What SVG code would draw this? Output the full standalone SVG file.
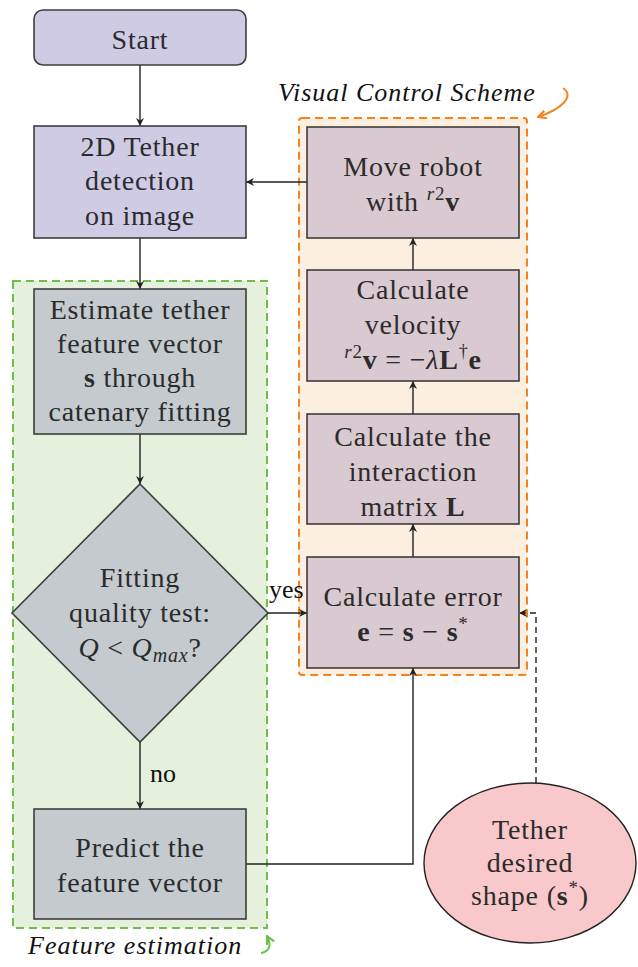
<svg xmlns="http://www.w3.org/2000/svg" width="638" height="967" viewBox="0 0 638 967" font-family="Liberation Serif, Times New Roman, serif">
<defs>
<style>
text{font-family:"Liberation Serif","Times New Roman",Tinos,serif}
.t{font-size:28px;fill:#2b2b2b;text-anchor:middle;letter-spacing:0.8px}
.lbl{font-size:26px;fill:#111}
.cap{font-size:26px;font-style:italic;fill:#111;letter-spacing:1px}
.b{font-weight:bold}
.i{font-style:italic}
.box{stroke:#3d3d3d;stroke-width:1.6}
.lav{fill:#cfcbe4}
.gray{fill:#c4cacd}
.mauve{fill:#d9c9d0}
.edge{fill:none;stroke:#222;stroke-width:1.4}
</style>
<marker id="ah" viewBox="0 0 10 10" refX="10" refY="5" markerWidth="8" markerHeight="8" markerUnits="userSpaceOnUse" orient="auto">
<path d="M0,0 L10,5 L0,10 L3,5 Z" fill="#222"/>
</marker>
<marker id="ahO" viewBox="0 0 10 10" refX="9" refY="5" markerWidth="10" markerHeight="10" markerUnits="userSpaceOnUse" orient="auto">
<path d="M1,1 L9,5 L1,9" fill="none" stroke="#f5821f" stroke-width="2"/>
</marker>
<marker id="ahG" viewBox="0 0 10 10" refX="9" refY="5" markerWidth="10" markerHeight="10" markerUnits="userSpaceOnUse" orient="auto">
<path d="M1,1 L9,5 L1,9" fill="none" stroke="#6cbf4a" stroke-width="2"/>
</marker>
</defs>

<g id="feature-estimation-group">
<rect x="13" y="281" width="254" height="647" fill="#e5f1dc" stroke="#6cbf4a" stroke-width="2" stroke-dasharray="8,5"/>
<text class="cap" x="28" y="954">Feature estimation</text>
<path d="M261,953 C271,951 271,944 267,936" fill="none" stroke="#6cbf4a" stroke-width="2" marker-end="url(#ahG)"/>
</g>

<g id="visual-control-group">
<rect x="299" y="118" width="228" height="557" rx="3" fill="#fdefe0" stroke="#f5821f" stroke-width="2" stroke-dasharray="8,5"/>
<text class="cap" x="278" y="101">Visual Control Scheme</text>
<path d="M563,88 C575,96 562,109 538,117" fill="none" stroke="#f5821f" stroke-width="2" marker-end="url(#ahO)"/>
</g>

<g id="connectors">
<line class="edge" x1="140" y1="65" x2="140" y2="126" marker-end="url(#ah)"/>
<line class="edge" x1="140" y1="238" x2="140" y2="289" marker-end="url(#ah)"/>
<line class="edge" x1="140" y1="434" x2="140" y2="484" marker-end="url(#ah)"/>
<line class="edge" x1="140" y1="742" x2="140" y2="809" marker-end="url(#ah)"/>
<text class="lbl" x="150" y="782">no</text>
<line class="edge" x1="268" y1="613" x2="307" y2="613" marker-end="url(#ah)"/>
<text class="lbl" x="269" y="598">yes</text>
<line class="edge" x1="413" y1="557" x2="413" y2="524" marker-end="url(#ah)"/>
<line class="edge" x1="413" y1="414" x2="413" y2="381" marker-end="url(#ah)"/>
<line class="edge" x1="413" y1="270" x2="413" y2="238" marker-end="url(#ah)"/>
<line class="edge" x1="307" y1="182" x2="246" y2="182" marker-end="url(#ah)"/>
<polyline class="edge" points="246,864 413,864 413,668" marker-end="url(#ah)"/>
<polyline class="edge" points="536,783 536,613 519,613" stroke-dasharray="6,4" marker-end="url(#ah)"/>
</g>

<g id="start">
<rect class="box lav" x="34" y="10" width="212" height="55" rx="9"/>
<text class="t" x="140" y="49">Start</text>
</g>

<g id="tether-detection">
<rect class="box lav" x="34" y="126" width="212" height="112"/>
<text class="t" x="140" y="156">2D Tether</text>
<text class="t" x="140" y="190">detection</text>
<text class="t" x="140" y="225">on image</text>
</g>

<g id="estimate">
<rect class="box gray" x="34" y="289" width="212" height="145"/>
<text class="t" x="140" y="319">Estimate tether</text>
<text class="t" x="140" y="353">feature vector</text>
<text class="t" x="140" y="387"><tspan class="b">s</tspan> through</text>
<text class="t" x="140" y="421">catenary fitting</text>
</g>

<g id="fitting-test">
<polygon class="box gray" points="140,484 268,613 140,742 12,613"/>
<text class="t" x="140" y="587">Fitting</text>
<text class="t" x="140" y="622">quality test:</text>
<text class="t" x="140" y="657"><tspan class="i">Q</tspan> &lt; <tspan class="i">Q</tspan><tspan class="i" font-size="20" dy="5">max</tspan><tspan dy="-5">?</tspan></text>
</g>

<g id="predict">
<rect class="box gray" x="34" y="809" width="212" height="110"/>
<text class="t" x="140" y="857">Predict the</text>
<text class="t" x="140" y="892">feature vector</text>
</g>

<g id="move-robot">
<rect class="box mauve" x="307" y="127" width="212" height="111"/>
<text class="t" x="413" y="176">Move robot</text>
<text class="t" x="413" y="211">with <tspan font-size="19" dy="-11"><tspan class="i">r</tspan>2</tspan><tspan class="b" dy="11">v</tspan></text>
</g>

<g id="calc-velocity">
<rect class="box mauve" x="307" y="270" width="212" height="111"/>
<text class="t" x="413" y="299">Calculate</text>
<text class="t" x="413" y="334">velocity</text>
<text class="t" x="413" y="369"><tspan font-size="19" dy="-11"><tspan class="i">r</tspan>2</tspan><tspan class="b" dy="11">v</tspan> = −<tspan class="i">λ</tspan><tspan class="b">L</tspan><tspan font-size="18" dy="-12">†</tspan><tspan class="b" dy="12">e</tspan></text>
</g>

<g id="interaction-matrix">
<rect class="box mauve" x="307" y="414" width="212" height="110"/>
<text class="t" x="413" y="446">Calculate the</text>
<text class="t" x="413" y="481">interaction</text>
<text class="t" x="413" y="516">matrix <tspan class="b">L</tspan></text>
</g>

<g id="calc-error">
<rect class="box mauve" x="307" y="557" width="212" height="111"/>
<text class="t" x="413" y="606">Calculate error</text>
<text class="t" x="413" y="641"><tspan class="b">e</tspan> = <tspan class="b">s</tspan> − <tspan class="b">s</tspan><tspan font-size="19" dy="-11">*</tspan></text>
</g>

<g id="desired-shape">
<ellipse cx="530" cy="863" rx="106" ry="80" fill="#f8c8cb" stroke="#222" stroke-width="1.4"/>
<text class="t" x="530" y="839">Tether</text>
<text class="t" x="530" y="872">desired</text>
<text class="t" x="530" y="905">shape (<tspan class="b">s</tspan><tspan font-size="19" dy="-11">*</tspan><tspan dy="11">)</tspan></text>
</g>
</svg>
